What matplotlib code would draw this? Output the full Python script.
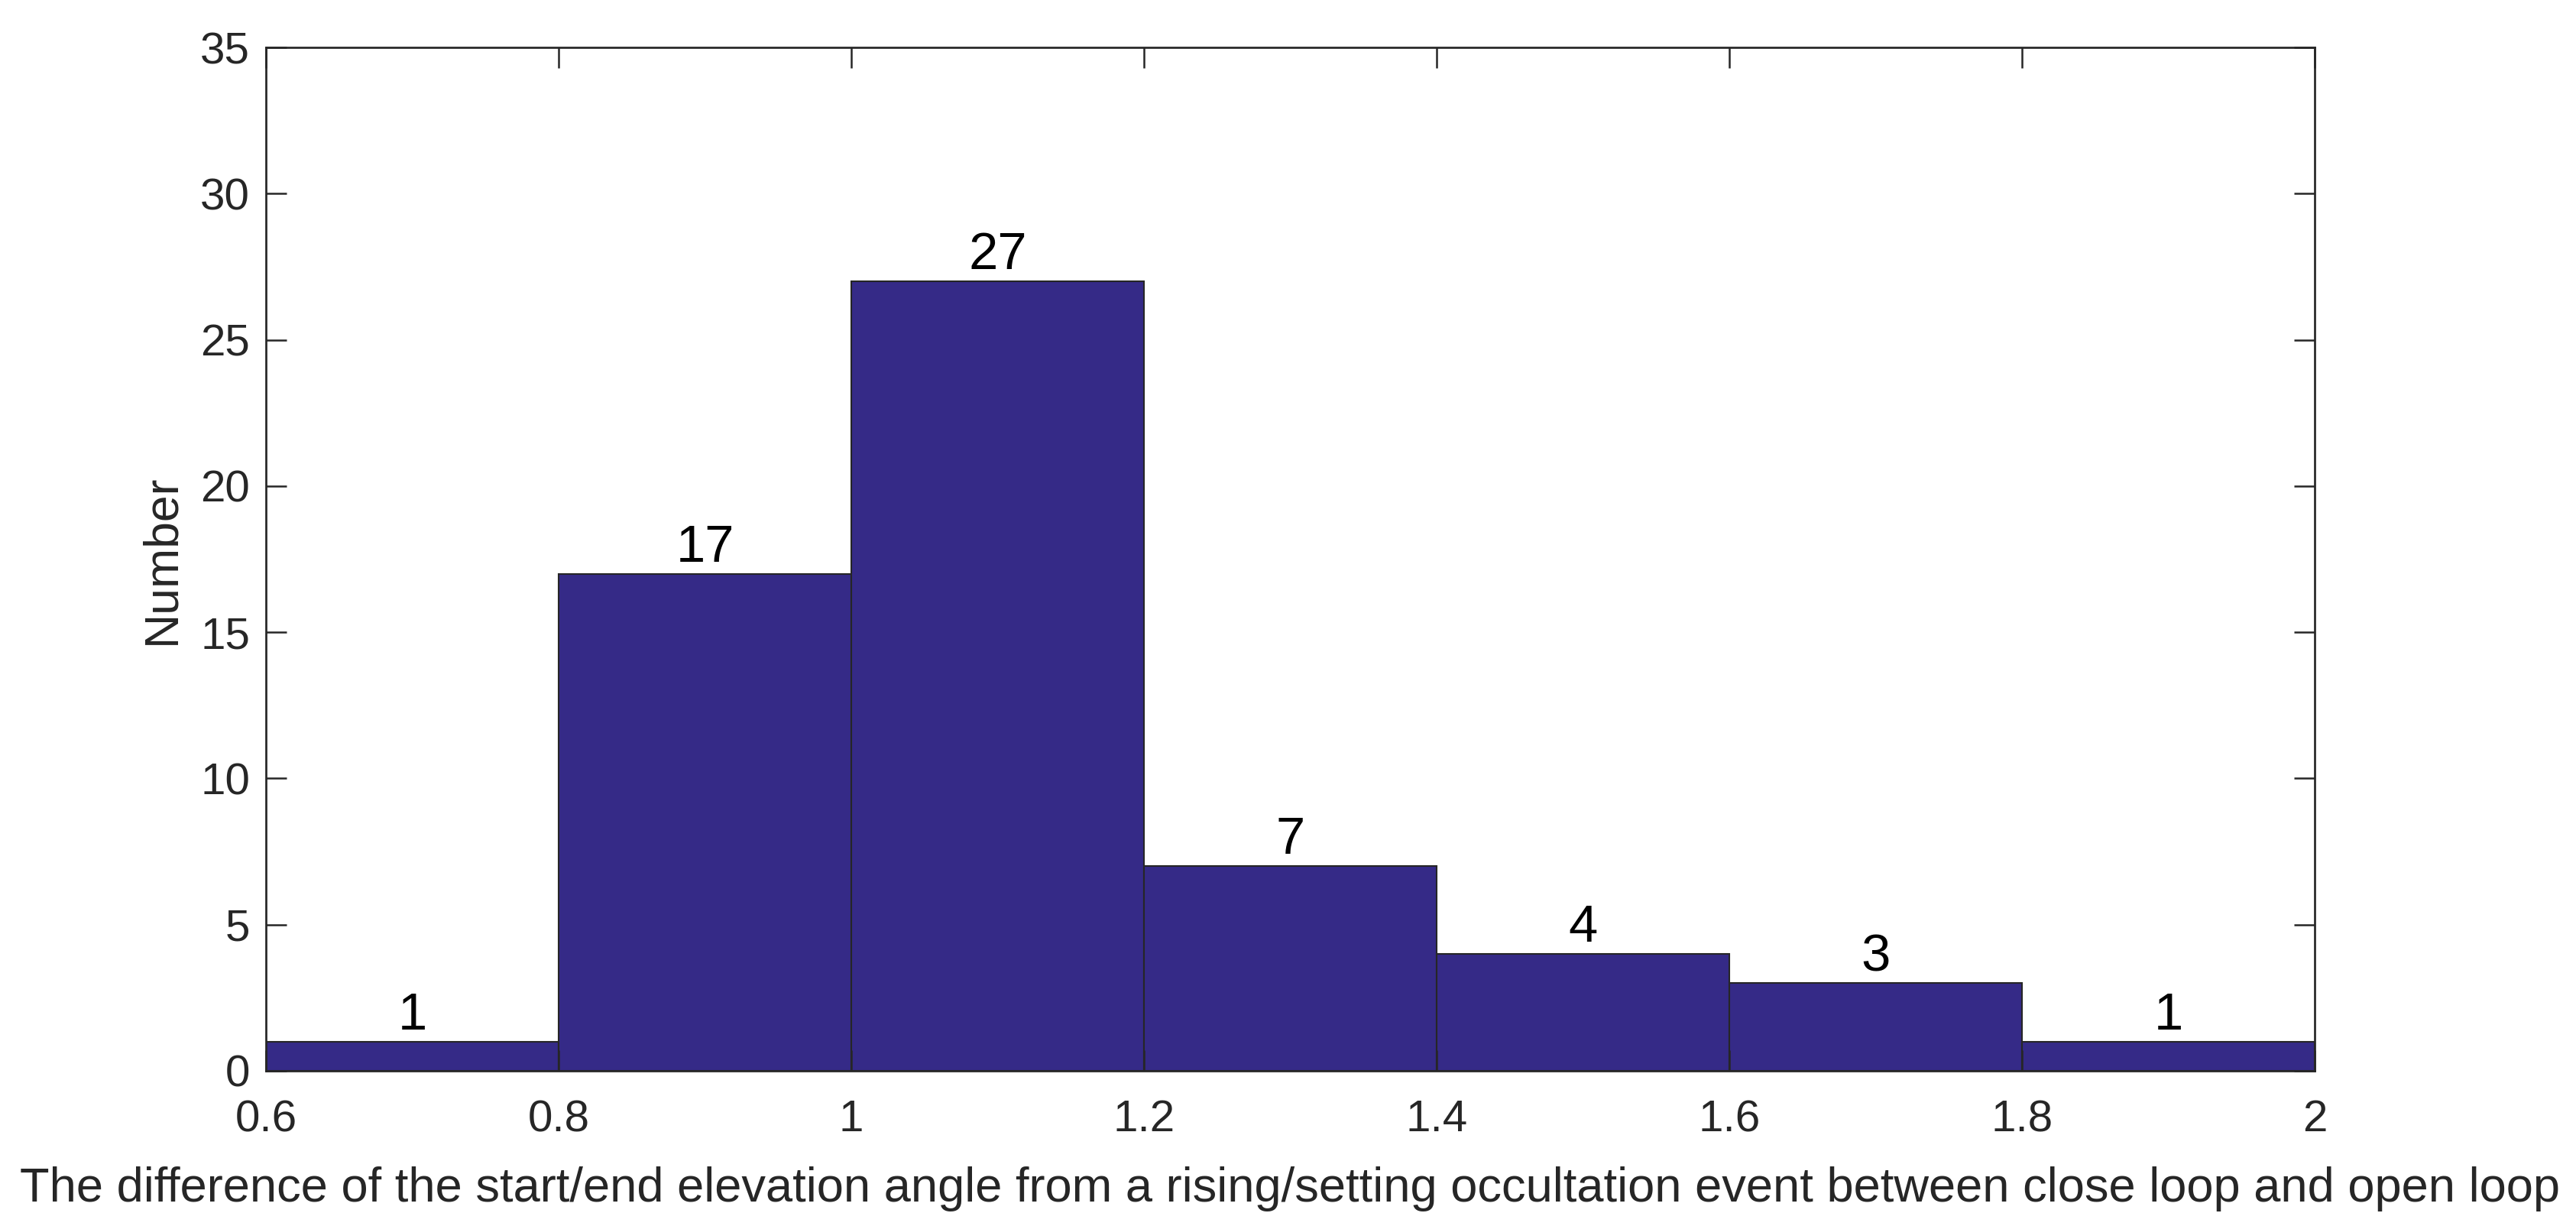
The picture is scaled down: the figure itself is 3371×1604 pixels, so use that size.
import numpy as np
import matplotlib.pyplot as plt

plt.rcParams['font.family'] = ['Liberation Sans', 'DejaVu Sans']

bin_edges = [0.6, 0.8, 1.0, 1.2, 1.4, 1.6, 1.8, 2.0]
counts = [1, 17, 27, 7, 4, 3, 1]
x_ticks = [0.6, 0.8, 1.0, 1.2, 1.4, 1.6, 1.8, 2.0]
x_tick_labels = ['0.6', '0.8', '1', '1.2', '1.4', '1.6', '1.8', '2']
y_ticks = [0, 5, 10, 15, 20, 25, 30, 35]

axis_color = '#262626'
bar_color = '#352A87'

fig = plt.figure(figsize=(3371 / 300, 1604 / 300), dpi=300)
ax = fig.add_axes([348 / 3371, 1 - 1401 / 1604, (3029 - 348) / 3371, (1401 - 62) / 1604])

left = np.array(bin_edges[:-1])
widths = np.diff(bin_edges)
bars = ax.bar(left, counts, width=widths, align='edge', color=bar_color,
              edgecolor=axis_color, linewidth=0.5)

# count labels on top of each bin
for x, w, c in zip(left, widths, counts):
    ax.annotate(str(c), (x + w / 2, c), xytext=(0, 3.8), textcoords='offset points',
                ha='center', va='baseline', fontsize=16.5, color='black')

ax.set_xlim(0.6, 2.0)
ax.set_ylim(0, 35)
ax.set_xticks(x_ticks)
ax.set_xticklabels(x_tick_labels)
ax.set_yticks(y_ticks)

ax.tick_params(direction='in', top=True, right=True, length=6.5, width=0.6,
               colors=axis_color, labelsize=14)
ax.tick_params(axis='x', pad=9)
ax.tick_params(axis='y', pad=5)
for s in ax.spines.values():
    s.set_linewidth(0.65)
    s.set_color(axis_color)

ax.set_xlabel('The difference of the start/end elevation angle from a rising/setting '
              'occultation event between close loop and open loop',
              fontsize=15.2, color=axis_color, labelpad=8)
ax.set_ylabel('Number', fontsize=15, color=axis_color, labelpad=5)

fig.savefig('out.png', dpi=300)
